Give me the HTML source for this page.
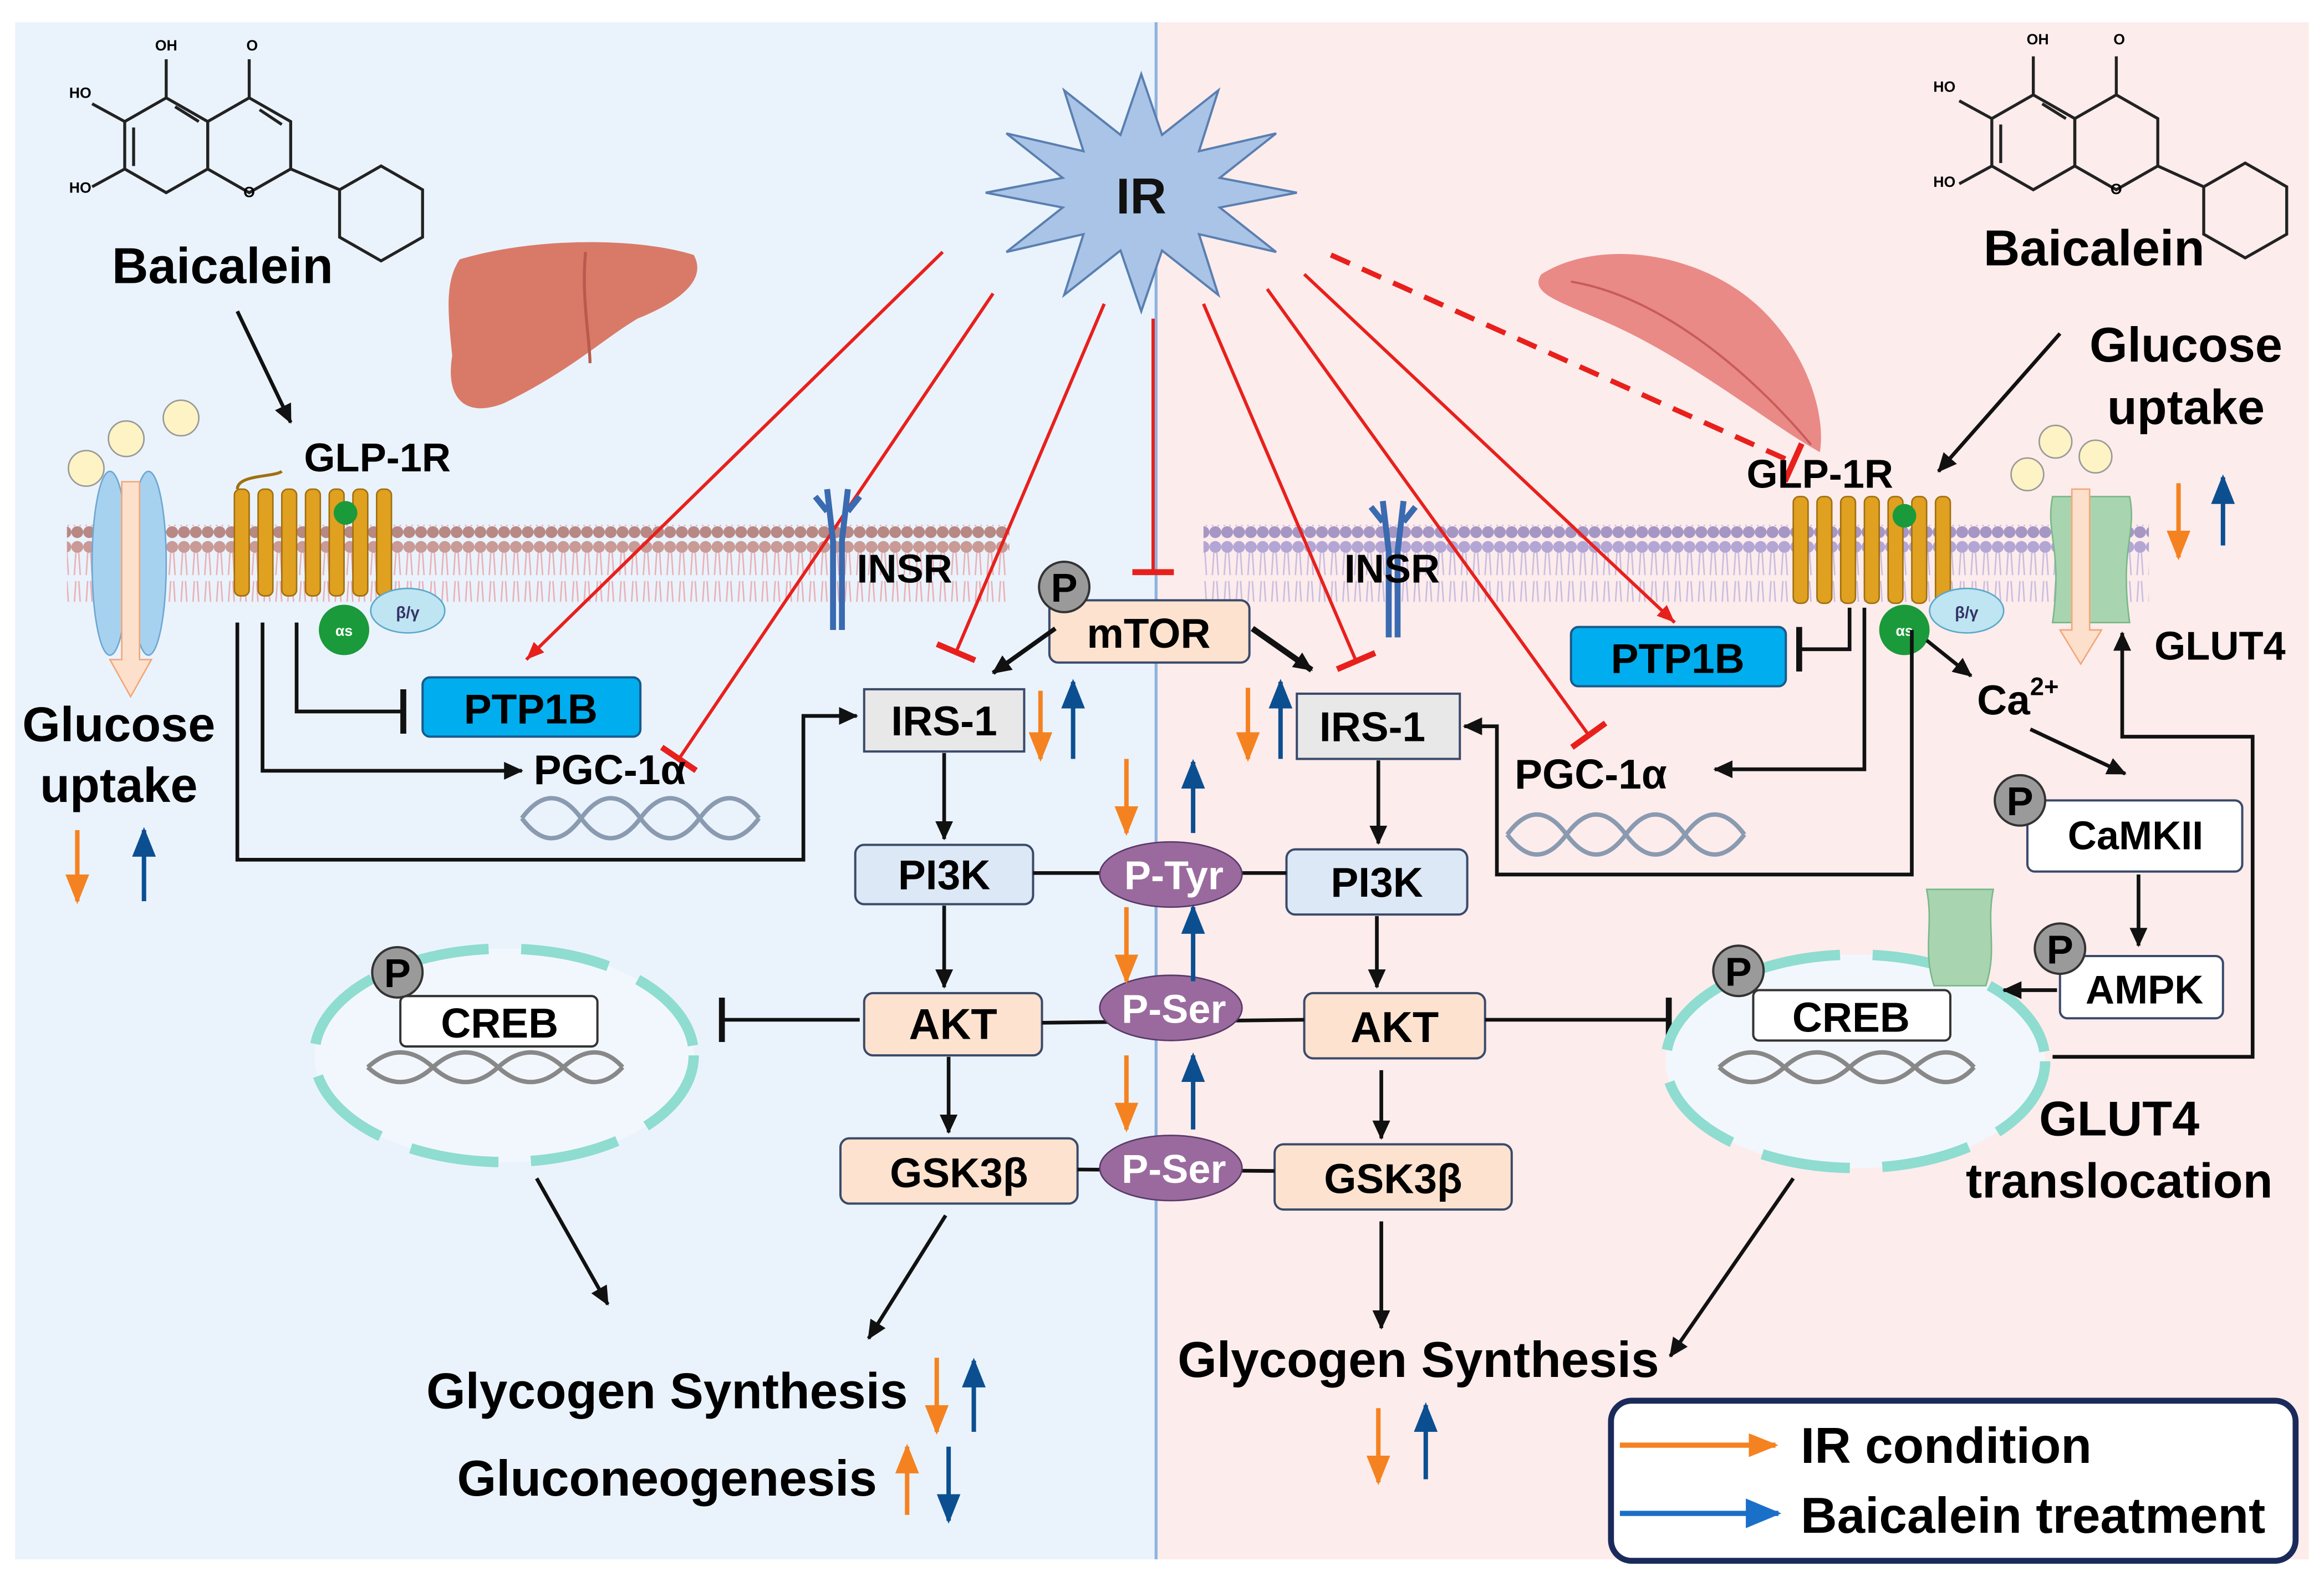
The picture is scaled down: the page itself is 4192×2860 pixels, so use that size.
<!DOCTYPE html>
<html><head><meta charset="utf-8"><style>html,body{margin:0;padding:0;background:#fff}svg{display:block}text{font-family:"Liberation Sans",sans-serif;font-weight:bold}</style></head><body>
<svg width="4192" height="2860" viewBox="0 0 1568 1070" xmlns="http://www.w3.org/2000/svg">
<defs>
<marker id="ak" markerUnits="userSpaceOnUse" markerWidth="14" markerHeight="14" refX="12" refY="7" orient="auto"><path d="M0,1 L13,7 L0,13 z" fill="#111"/></marker>
<marker id="ar" markerUnits="userSpaceOnUse" markerWidth="14" markerHeight="14" refX="12" refY="7" orient="auto"><path d="M0,2 L12,7 L0,12 z" fill="#e8201c"/></marker>
<marker id="tr" markerUnits="userSpaceOnUse" markerWidth="6" markerHeight="28" refX="3" refY="14" orient="auto"><path d="M3,0 L3,28" stroke="#e8201c" stroke-width="4"/></marker>
<marker id="tk" markerUnits="userSpaceOnUse" markerWidth="6" markerHeight="30" refX="3" refY="15" orient="auto"><path d="M3,0 L3,30" stroke="#111" stroke-width="4"/></marker>
<marker id="ao" markerUnits="userSpaceOnUse" markerWidth="20" markerHeight="20" refX="18" refY="10" orient="auto"><path d="M0,2 L20,10 L0,18 z" fill="#f58220"/></marker>
<marker id="ab" markerUnits="userSpaceOnUse" markerWidth="20" markerHeight="20" refX="18" refY="10" orient="auto"><path d="M0,2 L20,10 L0,18 z" fill="#0b4f91"/></marker>
<marker id="ab2" markerUnits="userSpaceOnUse" markerWidth="24" markerHeight="24" refX="22" refY="12" orient="auto"><path d="M0,2 L24,12 L0,22 z" fill="#1a6fc9"/></marker>
<pattern id="memL" width="8" height="52" patternUnits="userSpaceOnUse"><circle cx="4" cy="5" r="4" fill="#c99a96"/><circle cx="4" cy="47" r="4" fill="#b88884"/><path d="M3,9 L2,24 M5,9 L6,24 M3,28 L2,43 M5,28 L6,43" stroke="#eab0b5" stroke-width="1"/></pattern>
<pattern id="memR" width="8" height="52" patternUnits="userSpaceOnUse"><circle cx="4" cy="5" r="4" fill="#b3a6d4"/><circle cx="4" cy="47" r="4" fill="#a596c4"/><path d="M3,9 L2,24 M5,9 L6,24 M3,28 L2,43 M5,28 L6,43" stroke="#c8bde0" stroke-width="1"/></pattern>
</defs>
<rect x="10" y="15" width="770" height="1037" fill="#eaf3fc"/>
<rect x="780" y="15" width="778" height="1037" fill="#fdecec"/>
<line x1="780" y1="15" x2="780" y2="1052" stroke="#8fb3dd" stroke-width="2"/>
<rect x="45" y="354" width="636" height="52" fill="url(#memL)"/>
<rect x="812" y="354" width="638" height="52" fill="url(#memR)"/>

<polygon points="875,130 823,140 861,170 809,158 822,199 784,169 770,210 756,169 718,199 731,158 679,170 717,140 665,130 717,120 679,90 731,102 718,61 756,91 770,50 784,91 822,61 809,102 861,90 823,120" fill="#a9c4e6" stroke="#5a7fb0" stroke-width="1.5"/>
<text x="770" y="144" font-size="34" text-anchor="middle" fill="#111">IR</text>

<g fill="none" stroke="#222" stroke-width="2">
<polygon points="112,66 140,82 140,114 112,130 84,114 84,82"/>
<polygon points="168,66 196,82 196,114 168,130 140,114 140,82"/>
<polygon points="257,112 285,128 285,160 257,176 229,160 229,128"/>
<path d="M196,114 L229,128 M168,66 L168,40 M112,66 L112,40 M84,82 L62,70 M84,114 L62,126 M118,72 L134,82 M90,112 L90,86 M175,74 L190,84"/>
</g>
<text x="112" y="34" font-size="10" text-anchor="middle" font-weight="normal">OH</text>
<text x="170" y="34" font-size="10" text-anchor="middle" font-weight="normal">O</text>
<text x="54" y="66" font-size="10" text-anchor="middle" font-weight="normal">HO</text>
<text x="54" y="130" font-size="10" text-anchor="middle" font-weight="normal">HO</text>
<text x="168" y="133" font-size="10" text-anchor="middle" font-weight="normal">O</text>
<text x="150" y="191" font-size="34" text-anchor="middle">Baicalein</text>
<g fill="none" stroke="#222" stroke-width="2">
<polygon points="1372,64 1400,80 1400,112 1372,128 1344,112 1344,80"/>
<polygon points="1428,64 1456,80 1456,112 1428,128 1400,112 1400,80"/>
<polygon points="1515,110 1543,126 1543,158 1515,174 1487,158 1487,126"/>
<path d="M1456,112 L1487,126 M1428,64 L1428,38 M1372,64 L1372,38 M1344,80 L1322,68 M1344,112 L1322,124 M1378,70 L1394,80 M1350,110 L1350,84"/>
</g>
<text x="1375" y="30" font-size="10" text-anchor="middle" font-weight="normal">OH</text>
<text x="1430" y="30" font-size="10" text-anchor="middle" font-weight="normal">O</text>
<text x="1312" y="62" font-size="10" text-anchor="middle" font-weight="normal">HO</text>
<text x="1312" y="126" font-size="10" text-anchor="middle" font-weight="normal">HO</text>
<text x="1428" y="131" font-size="10" text-anchor="middle" font-weight="normal">O</text>
<text x="1413" y="179" font-size="34" text-anchor="middle">Baicalein</text>

<path d="M310,175 C360,160 430,160 468,172 C478,190 455,205 430,215 C405,230 385,250 340,272 C315,282 300,270 305,240 C302,210 300,190 310,175 z" fill="#d97a68"/>
<path d="M395,170 C392,200 398,230 398,245" stroke="#b85a4c" stroke-width="2" fill="none"/>
<path d="M1040,185 C1080,160 1150,170 1190,210 C1220,240 1232,280 1228,305 C1200,290 1150,250 1100,225 C1060,205 1030,200 1040,185 z" fill="#e98a86"/>
<path d="M1060,190 C1120,200 1180,250 1222,300" stroke="#c85c5a" stroke-width="1.5" fill="none"/>

<g stroke="#e8201c" stroke-width="2.2" fill="none">
<line x1="636" y1="170" x2="355" y2="445" marker-end="url(#ar)"/>
<line x1="670" y1="198" x2="458" y2="512" marker-end="url(#tr)"/>
<line x1="745" y1="205" x2="645" y2="440" marker-end="url(#tr)"/>
<line x1="778" y1="215" x2="778" y2="386" marker-end="url(#tr)"/>
<line x1="812" y1="205" x2="915" y2="446" marker-end="url(#tr)"/>
<line x1="855" y1="195" x2="1072" y2="496" marker-end="url(#tr)"/>
<line x1="880" y1="185" x2="1130" y2="420" marker-end="url(#ar)"/>
<line x1="898" y1="172" x2="1210" y2="312" stroke-width="3.5" stroke-dasharray="14,9" marker-end="url(#tr)"/>
</g>

<line x1="160" y1="210" x2="196" y2="285" stroke="#111" stroke-width="2.5" marker-end="url(#ak)"/>
<text x="205" y="318" font-size="27">GLP-1R</text>
<circle cx="58" cy="316" r="12" fill="#fdf3c4" stroke="#999"/>
<circle cx="85" cy="296" r="12" fill="#fdf3c4" stroke="#999"/>
<circle cx="122" cy="282" r="12" fill="#fdf3c4" stroke="#999"/>
<ellipse cx="74" cy="380" rx="12" ry="62" fill="#a7d2ef" stroke="#6ea7d3"/>
<ellipse cx="100" cy="380" rx="12" ry="62" fill="#a7d2ef" stroke="#6ea7d3"/>
<path d="M82,325 L94,325 L94,445 L102,445 L88,470 L74,445 L82,445 z" fill="#fde0cc" stroke="#f2a77a"/>
<g fill="#e0a020" stroke="#a07010" stroke-width="1">
<rect x="158" y="330" width="10" height="72" rx="4"/><rect x="174" y="330" width="10" height="72" rx="4"/><rect x="190" y="330" width="10" height="72" rx="4"/><rect x="206" y="330" width="10" height="72" rx="4"/><rect x="222" y="330" width="10" height="72" rx="4"/><rect x="238" y="330" width="10" height="72" rx="4"/><rect x="254" y="330" width="10" height="72" rx="4"/>
</g>
<path d="M160,330 C160,320 185,322 190,318" stroke="#a07010" stroke-width="2" fill="none"/>
<circle cx="233" cy="346" r="8" fill="#1a9a3a"/>
<ellipse cx="275" cy="412" rx="25" ry="15" fill="#bfe4f2" stroke="#5aa8c8"/>
<text x="275" y="417" font-size="11" text-anchor="middle" font-weight="normal" fill="#336">β/γ</text>
<circle cx="232" cy="425" r="17" fill="#1a9a3a"/>
<text x="232" y="429" font-size="10" text-anchor="middle" fill="#fff">αs</text>
<text x="80" y="500" font-size="33" text-anchor="middle">Glucose</text>
<text x="80" y="541" font-size="33" text-anchor="middle">uptake</text>
<line x1="52" y1="560" x2="52" y2="608" stroke="#f58220" stroke-width="3" marker-end="url(#ao)"/>
<line x1="97" y1="608" x2="97" y2="560" stroke="#0b4f91" stroke-width="3" marker-end="url(#ab)"/>
<g stroke="#111" stroke-width="2.5" fill="none">
<path d="M200,420 L200,480 L272,480" marker-end="url(#tk)"/>
<path d="M177,420 L177,520 L352,520" marker-end="url(#ak)"/>
<path d="M160,420 L160,580 L542,580 L542,483 L578,483" marker-end="url(#ak)"/>
</g>
<rect x="285" y="457" width="147" height="40" rx="5" fill="#00aeef" stroke="#1a5a8a" stroke-width="1.5"/>
<text x="358" y="488" font-size="28" text-anchor="middle">PTP1B</text>
<text x="360" y="529" font-size="28">PGC-1α</text>
<g stroke="#8a9ab0" stroke-width="3" fill="none">
<path d="M352,552 Q372,525 392,552 T432,552 T472,552 T512,552"/>
<path d="M352,552 Q372,579 392,552 T432,552 T472,552 T512,552"/>
</g>
<g stroke="#3a6ab0" stroke-width="4" fill="none"><path d="M558,330 L562,365 L562,425 M572,330 L568,365 L568,425 M550,335 L558,345 M580,335 L572,345"/></g>
<text x="578" y="393" font-size="27">INSR</text>
<g stroke="#3a6ab0" stroke-width="4" fill="none"><path d="M933,338 L937,372 L937,430 M947,338 L943,372 L943,430 M925,342 L933,352 M955,342 L947,352"/></g>
<text x="907" y="393" font-size="27">INSR</text>

<rect x="708" y="405" width="135" height="42" rx="6" fill="#fde3cf" stroke="#3a4a6a" stroke-width="1.5"/>
<text x="775" y="437" font-size="28" text-anchor="middle">mTOR</text>
<circle cx="718" cy="396" r="17" fill="#9a9a9a" stroke="#333" stroke-width="1.5"/>
<text x="718" y="406" font-size="27" text-anchor="middle">P</text>
<line x1="712" y1="424" x2="670" y2="454" stroke="#111" stroke-width="3" marker-end="url(#ak)"/>
<line x1="845" y1="424" x2="885" y2="452" stroke="#111" stroke-width="4" marker-end="url(#ak)"/>

<rect x="583" y="465" width="108" height="42" fill="#e8e8e8" stroke="#3a4a6a" stroke-width="1.5"/>
<text x="637" y="496" font-size="28" text-anchor="middle">IRS-1</text>
<rect x="577" y="570" width="120" height="40" rx="6" fill="#dce8f5" stroke="#3a4a6a" stroke-width="1.5"/>
<text x="637" y="600" font-size="28" text-anchor="middle">PI3K</text>
<rect x="583" y="670" width="120" height="42" rx="6" fill="#fde3cf" stroke="#3a4a6a" stroke-width="1.5"/>
<text x="643" y="701" font-size="29" text-anchor="middle">AKT</text>
<rect x="567" y="768" width="160" height="44" rx="6" fill="#fde3cf" stroke="#3a4a6a" stroke-width="1.5"/>
<text x="647" y="801" font-size="28" text-anchor="middle">GSK3β</text>
<rect x="875" y="468" width="110" height="44" fill="#e8e8e8" stroke="#3a4a6a" stroke-width="1.5"/>
<text x="926" y="500" font-size="28" text-anchor="middle">IRS-1</text>
<rect x="868" y="573" width="122" height="44" rx="6" fill="#dce8f5" stroke="#3a4a6a" stroke-width="1.5"/>
<text x="929" y="605" font-size="28" text-anchor="middle">PI3K</text>
<rect x="880" y="670" width="122" height="44" rx="6" fill="#fde3cf" stroke="#3a4a6a" stroke-width="1.5"/>
<text x="941" y="703" font-size="29" text-anchor="middle">AKT</text>
<rect x="860" y="772" width="160" height="44" rx="6" fill="#fde3cf" stroke="#3a4a6a" stroke-width="1.5"/>
<text x="940" y="805" font-size="28" text-anchor="middle">GSK3β</text>

<g stroke="#111" stroke-width="2.5" fill="none">
<line x1="637" y1="508" x2="637" y2="566" marker-end="url(#ak)"/>
<line x1="637" y1="611" x2="637" y2="666" marker-end="url(#ak)"/>
<line x1="640" y1="713" x2="640" y2="764" marker-end="url(#ak)"/>
<line x1="930" y1="513" x2="930" y2="569" marker-end="url(#ak)"/>
<line x1="929" y1="618" x2="929" y2="666" marker-end="url(#ak)"/>
<line x1="932" y1="722" x2="932" y2="768" marker-end="url(#ak)"/>
<line x1="697" y1="589" x2="868" y2="589"/>
<line x1="703" y1="690" x2="880" y2="688"/>
<line x1="727" y1="789" x2="860" y2="790"/>
<line x1="580" y1="688" x2="487" y2="688" marker-end="url(#tk)"/>
<line x1="1002" y1="688" x2="1126" y2="688" marker-end="url(#tk)"/>
</g>
<g fill="#9a6a9e" stroke="#5a3a6a" stroke-width="1">
<ellipse cx="790" cy="590" rx="48" ry="22"/><ellipse cx="790" cy="680" rx="48" ry="22"/><ellipse cx="790" cy="788" rx="48" ry="22"/>
</g>
<g fill="#fff" font-size="27" text-anchor="middle"><text x="792" y="600">P-Tyr</text><text x="792" y="690">P-Ser</text><text x="792" y="798">P-Ser</text></g>

<g stroke-width="3">
<line x1="702" y1="466" x2="702" y2="512" stroke="#f58220" marker-end="url(#ao)"/>
<line x1="724" y1="512" x2="724" y2="460" stroke="#0b4f91" marker-end="url(#ab)"/>
<line x1="842" y1="464" x2="842" y2="512" stroke="#f58220" marker-end="url(#ao)"/>
<line x1="864" y1="512" x2="864" y2="460" stroke="#0b4f91" marker-end="url(#ab)"/>
<line x1="760" y1="512" x2="760" y2="562" stroke="#f58220" marker-end="url(#ao)"/>
<line x1="805" y1="562" x2="805" y2="514" stroke="#0b4f91" marker-end="url(#ab)"/>
<line x1="760" y1="612" x2="760" y2="662" stroke="#f58220" marker-end="url(#ao)"/>
<line x1="805" y1="662" x2="805" y2="612" stroke="#0b4f91" marker-end="url(#ab)"/>
<line x1="760" y1="712" x2="760" y2="762" stroke="#f58220" marker-end="url(#ao)"/>
<line x1="805" y1="762" x2="805" y2="712" stroke="#0b4f91" marker-end="url(#ab)"/>
<line x1="632" y1="916" x2="632" y2="966" stroke="#f58220" marker-end="url(#ao)"/>
<line x1="657" y1="966" x2="657" y2="918" stroke="#0b4f91" marker-end="url(#ab)"/>
<line x1="612" y1="1022" x2="612" y2="976" stroke="#f58220" marker-end="url(#ao)"/>
<line x1="640" y1="976" x2="640" y2="1026" stroke="#0b4f91" marker-end="url(#ab)"/>
<line x1="930" y1="950" x2="930" y2="1000" stroke="#f58220" marker-end="url(#ao)"/>
<line x1="962" y1="998" x2="962" y2="948" stroke="#0b4f91" marker-end="url(#ab)"/>
<line x1="1470" y1="326" x2="1470" y2="376" stroke="#f58220" marker-end="url(#ao)"/>
<line x1="1500" y1="368" x2="1500" y2="322" stroke="#0b4f91" marker-end="url(#ab)"/>
</g>

<ellipse cx="340" cy="712" rx="128" ry="72" fill="#f2f7fd" stroke="#8fdcd0" stroke-width="7" stroke-dasharray="60,22"/>
<ellipse cx="1252" cy="716" rx="128" ry="72" fill="#f2f7fd" stroke="#8fdcd0" stroke-width="7" stroke-dasharray="60,22"/>
<g stroke="#888" stroke-width="3" fill="none">
<path d="M248,720 Q270,700 292,720 T336,720 T380,720 T420,720"/><path d="M248,720 Q270,740 292,720 T336,720 T380,720 T420,720"/>
<path d="M1160,720 Q1182,700 1204,720 T1248,720 T1292,720 T1332,720"/><path d="M1160,720 Q1182,740 1204,720 T1248,720 T1292,720 T1332,720"/>
</g>
<rect x="270" y="672" width="133" height="34" rx="4" fill="#fff" stroke="#333" stroke-width="1.5"/>
<text x="337" y="700" font-size="28" text-anchor="middle">CREB</text>
<circle cx="268" cy="656" r="17" fill="#9a9a9a" stroke="#333" stroke-width="1.5"/>
<text x="268" y="666" font-size="27" text-anchor="middle">P</text>
<rect x="1183" y="668" width="133" height="34" rx="4" fill="#fff" stroke="#333" stroke-width="1.5"/>
<text x="1249" y="696" font-size="28" text-anchor="middle">CREB</text>
<circle cx="1173" cy="655" r="17" fill="#9a9a9a" stroke="#333" stroke-width="1.5"/>
<text x="1173" y="665" font-size="27" text-anchor="middle">P</text>

<g stroke="#111" stroke-width="2.5" fill="none">
<line x1="362" y1="795" x2="410" y2="880" marker-end="url(#ak)"/>
<line x1="638" y1="820" x2="586" y2="903" marker-end="url(#ak)"/>
<line x1="932" y1="824" x2="932" y2="896" marker-end="url(#ak)"/>
<line x1="1210" y1="795" x2="1127" y2="915" marker-end="url(#ak)"/>
</g>
<text x="450" y="950" font-size="34" text-anchor="middle">Glycogen Synthesis</text>
<text x="450" y="1009" font-size="34" text-anchor="middle">Gluconeogenesis</text>
<text x="957" y="929" font-size="34" text-anchor="middle">Glycogen Synthesis</text>

<text x="1475" y="244" font-size="33" text-anchor="middle">Glucose</text>
<text x="1475" y="286" font-size="33" text-anchor="middle">uptake</text>
<line x1="1390" y1="225" x2="1308" y2="318" stroke="#111" stroke-width="2.5" marker-end="url(#ak)"/>
<text x="1228" y="329" font-size="27" text-anchor="middle">GLP-1R</text>
<g fill="#e0a020" stroke="#a07010" stroke-width="1">
<rect x="1210" y="335" width="10" height="72" rx="4"/><rect x="1226" y="335" width="10" height="72" rx="4"/><rect x="1242" y="335" width="10" height="72" rx="4"/><rect x="1258" y="335" width="10" height="72" rx="4"/><rect x="1274" y="335" width="10" height="72" rx="4"/><rect x="1290" y="335" width="10" height="72" rx="4"/><rect x="1306" y="335" width="10" height="72" rx="4"/>
</g>
<circle cx="1285" cy="348" r="8" fill="#1a9a3a"/>
<ellipse cx="1327" cy="412" rx="25" ry="15" fill="#bfe4f2" stroke="#5aa8c8"/>
<text x="1327" y="417" font-size="11" text-anchor="middle" font-weight="normal" fill="#336">β/γ</text>
<circle cx="1285" cy="425" r="17" fill="#1a9a3a"/>
<text x="1285" y="429" font-size="10" text-anchor="middle" fill="#fff">αs</text>
<circle cx="1368" cy="320" r="11" fill="#fdf3c4" stroke="#999"/>
<circle cx="1387" cy="298" r="11" fill="#fdf3c4" stroke="#999"/>
<circle cx="1414" cy="308" r="11" fill="#fdf3c4" stroke="#999"/>
<path d="M1385,335 C1380,360 1392,370 1385,420 L1437,420 C1430,370 1442,360 1437,335 z" fill="#a8d5b0" stroke="#7ab88a"/>
<path d="M1398,330 L1410,330 L1410,425 L1418,425 L1404,448 L1390,425 L1398,425 z" fill="#fde0cc" stroke="#f2a77a"/>
<path d="M1300,600 L1345,600 C1340,625 1348,640 1340,665 L1305,665 C1297,640 1305,625 1300,600 z" fill="#a8d5b0" stroke="#7ab88a"/>
<rect x="1060" y="423" width="145" height="40" rx="5" fill="#00aeef" stroke="#1a5a8a" stroke-width="1.5"/>
<text x="1132" y="454" font-size="28" text-anchor="middle">PTP1B</text>
<text x="1022" y="532" font-size="28">PGC-1α</text>
<g stroke="#8a9ab0" stroke-width="3" fill="none">
<path d="M1017,563 Q1037,536 1057,563 T1097,563 T1137,563 T1177,563"/>
<path d="M1017,563 Q1037,590 1057,563 T1097,563 T1137,563 T1177,563"/>
</g>
<g stroke="#111" stroke-width="2.5" fill="none">
<path d="M1248,410 L1248,438 L1214,438" marker-end="url(#tk)"/>
<path d="M1258,410 L1258,519 L1157,519" marker-end="url(#ak)"/>
<path d="M1290,425 L1290,590 L1010,590 L1010,490 L988,490" marker-end="url(#ak)"/>
<line x1="1300" y1="432" x2="1330" y2="456" marker-end="url(#ak)"/>
<line x1="1370" y1="492" x2="1434" y2="522" marker-end="url(#ak)"/>
<line x1="1443" y1="590" x2="1443" y2="638" marker-end="url(#ak)"/>
<line x1="1388" y1="668" x2="1352" y2="668" marker-end="url(#ak)"/>
<path d="M1385,713 L1520,713 L1520,497 L1432,497 L1432,427" marker-end="url(#ak)"/>
</g>
<text x="1334" y="482" font-size="28">Ca<tspan font-size="17" dy="-13">2+</tspan></text>
<rect x="1368" y="540" width="145" height="48" rx="5" fill="#fff" stroke="#3a4a6a" stroke-width="1.5"/>
<text x="1441" y="573" font-size="27" text-anchor="middle">CaMKII</text>
<circle cx="1363" cy="540" r="17" fill="#9a9a9a" stroke="#333" stroke-width="1.5"/>
<text x="1363" y="550" font-size="27" text-anchor="middle">P</text>
<rect x="1390" y="645" width="110" height="42" rx="5" fill="#fff" stroke="#3a4a6a" stroke-width="1.5"/>
<text x="1447" y="677" font-size="27" text-anchor="middle">AMPK</text>
<circle cx="1390" cy="640" r="17" fill="#9a9a9a" stroke="#333" stroke-width="1.5"/>
<text x="1390" y="650" font-size="27" text-anchor="middle">P</text>
<text x="1498" y="445" font-size="27" text-anchor="middle">GLUT4</text>
<text x="1430" y="766" font-size="33" text-anchor="middle">GLUT4</text>
<text x="1430" y="808" font-size="33" text-anchor="middle">translocation</text>

<rect x="1087" y="945" width="462" height="108" rx="14" fill="#fff" stroke="#1a2a5a" stroke-width="4"/>
<line x1="1093" y1="975" x2="1198" y2="975" stroke="#f58220" stroke-width="3.5" marker-end="url(#ao)"/>
<text x="1215" y="987" font-size="34">IR condition</text>
<line x1="1093" y1="1021" x2="1200" y2="1021" stroke="#1a6fc9" stroke-width="3.5" marker-end="url(#ab2)"/>
<text x="1215" y="1034" font-size="34">Baicalein treatment</text>
</svg>
</body></html>
